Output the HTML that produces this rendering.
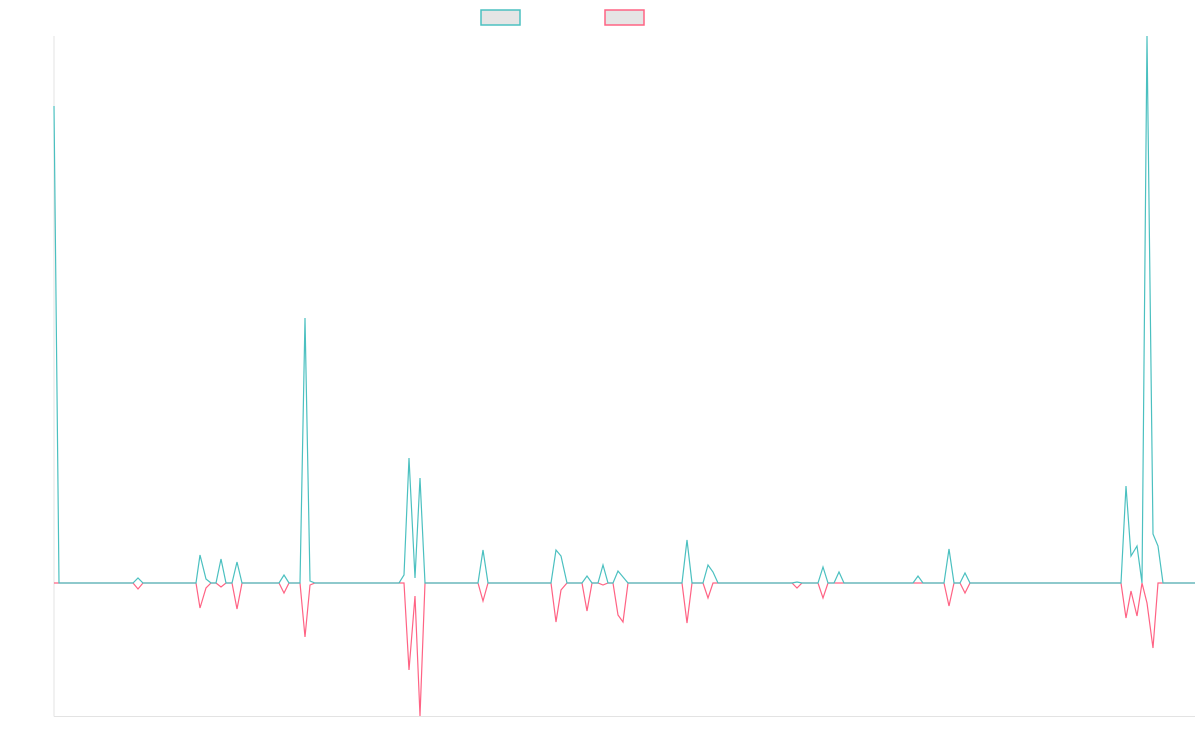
<!DOCTYPE html>
<html><head><meta charset="utf-8"><style>
html,body{margin:0;padding:0;background:#fff;}
svg{display:block;}
</style></head><body>
<svg width="1200" height="750" viewBox="0 0 1200 750" xmlns="http://www.w3.org/2000/svg">
<rect x="481" y="10" width="39" height="15" fill="#e5e5e5" stroke="#4bc0c0" stroke-width="1.5"/>
<rect x="605" y="10" width="39" height="15" fill="#e5e5e5" stroke="#ff6384" stroke-width="1.5"/>
<line x1="54" y1="36" x2="54" y2="716.5" stroke="#e3e3e3" stroke-width="1"/>
<line x1="54" y1="716.5" x2="1195" y2="716.5" stroke="#e3e3e3" stroke-width="1"/>
<polyline fill="none" stroke="#ff6384" stroke-width="1.2" points="54,583 133,583 138,589 143,583 196,583 200,608 206,588 211,583 216,583 221,587 226,583 232,583 237,609 242,583 279,583 284,593 289,583 300,583 305,637 310,585 315,583 404,583 409,670 415,596 420,716 425,583 478,583 483,601 488,583 551,583 556,622 561,590 567,583 582,583 587,611 592,583 598,583 603,585 608,583 613,583 618,615 623,622 628,583 682,583 687,623 692,583 703,583 708,598 713,583 792,583 797,588 802,583 818,583 823,598 828,583 944,583 949,606 954,583 960,583 965,593 970,583 1121,583 1126,618 1131,591 1137,616 1142,583 1147,603 1153,648 1158,583 1195,583"/>
<polyline fill="none" stroke="#4bc0c0" stroke-width="1.2" points="54,106 59,583 133,583 138,578 143,583 196,583 200,555 206,579 211,583 216,583 221,559 226,583 232,583 237,562 242,583 279,583 284,575 289,583 300,583 305,318 310,581 315,583 399,583 404,575 409,458 415,578 420,478 425,583 478,583 483,550 488,583 551,583 556,550 561,556 567,583 582,583 587,576 592,583 598,583 603,565 608,583 613,583 618,571 623,577 628,583 682,583 687,540 692,583 703,583 708,565 713,572 718,583 792,583 797,582 802,583 818,583 823,567 828,583 834,583 839,572 844,583 913,583 918,576 923,583 944,583 949,549 954,583 960,583 965,573 970,583 1121,583 1126,486 1131,556 1137,546 1142,583 1147,36 1153,534 1158,546 1163,583 1195,583"/>
</svg>
</body></html>
